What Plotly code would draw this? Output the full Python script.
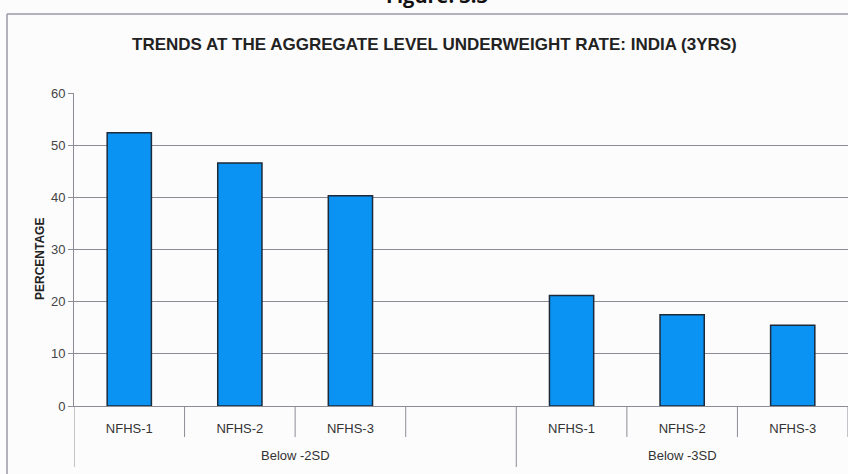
import plotly.graph_objects as go

# Underweight prevalence among children, India, three NFHS rounds
groups = ["Below -2SD", "Below -3SD"]
rounds = ["NFHS-1", "NFHS-2", "NFHS-3"]
below_2sd = [52.4, 46.6, 40.3]
below_3sd = [21.2, 17.5, 15.5]
y_ticks = [0, 10, 20, 30, 40, 50, 60]

# Category slots: three rounds, one empty slot, three rounds
slot_labels = rounds + [""] + rounds
slot_values = below_2sd + [None] + below_3sd
slot_index = list(range(len(slot_labels)))
group_slots = [(0, 3), (4, 6)]  # first / last slot of each group

W, H = 848, 474
ML, MR, MT, MB = 74, 0, 93, 68
PW, PH = W - ML - MR, H - MT - MB


def px_x(p):
    return (p - ML) / PW


def px_y(p):
    return (H - MB - p) / PH


BAR = "#0a93f2"
EDGE = "#1c2a3a"
GRID = "#8c8c96"
FONT = "Liberation Sans, Arial, sans-serif"

fig = go.Figure()
fig.add_trace(go.Bar(
    x=[i for i, v in zip(slot_index, slot_values) if v is not None],
    y=[v for v in slot_values if v is not None],
    width=0.4,
    marker=dict(color=BAR, line=dict(color=EDGE, width=1.5)),
    hoverinfo="x+y",
))

shapes = []
# dividers between slots in the category band
for i in range(len(slot_labels) + 1):
    edge = i - 0.5
    is_group_edge = edge in (-0.5, group_slots[0][1] + 0.5)
    shapes.append(dict(
        type="line", xref="x", yref="paper",
        x0=edge, x1=edge, y0=0,
        y1=px_y(467) if is_group_edge else px_y(437),
        line=dict(color=GRID, width=1),
    ))
# outer chart frame
shapes.append(dict(type="line", xref="paper", yref="paper",
                   x0=px_x(7), x1=px_x(7), y0=px_y(14), y1=px_y(H + 5),
                   line=dict(color="#9a9aa6", width=1.5)))
shapes.append(dict(type="line", xref="paper", yref="paper",
                   x0=px_x(7), x1=px_x(W + 5), y0=px_y(14), y1=px_y(14),
                   line=dict(color="#9a9aa6", width=1.5)))

annotations = []
for name, (a, b) in zip(groups, group_slots):
    annotations.append(dict(
        x=(a - 0.5 + b + 0.5) / 2, y=px_y(455), xref="x", yref="paper",
        text=name, showarrow=False, yanchor="middle",
        font=dict(family=FONT, size=13, color="#333"),
    ))
annotations.append(dict(
    x=px_x(31), y=px_y(259), xref="paper", yref="paper",
    text="<b>PERCENTAGE</b>", textangle=-90, showarrow=False,
    font=dict(family=FONT, size=12, color="#222"),
))
annotations.append(dict(
    x=px_x(434), y=px_y(44), xref="paper", yref="paper",
    text="<b>TRENDS AT THE AGGREGATE LEVEL UNDERWEIGHT RATE: INDIA (3YRS)</b>",
    showarrow=False, yanchor="middle",
    font=dict(family=FONT, size=17, color="#222"),
))
annotations.append(dict(
    x=px_x(437), y=px_y(11), xref="paper", yref="paper",
    text="<b>Figure: 3.3</b>", showarrow=False, yanchor="bottom",
    font=dict(family="Open Sans, sans-serif", size=20, color="#111"),
))

fig.update_layout(
    width=W, height=H,
    margin=dict(l=ML, r=MR, t=MT, b=MB, pad=0),
    paper_bgcolor="#fdfcfd", plot_bgcolor="#fdfcfd",
    showlegend=False,
    bargap=0.6,
    shapes=shapes,
    annotations=annotations,
    xaxis=dict(
        range=[-0.5, len(slot_labels) - 0.5],
        tickvals=[i for i, t in zip(slot_index, slot_labels) if t],
        ticktext=[t for t in slot_labels if t],
        ticks="", showgrid=False, zeroline=False,
        showline=True, linecolor=GRID, linewidth=1,
        ticklabelstandoff=10,
        tickfont=dict(family=FONT, size=13, color="#333"),
    ),
    yaxis=dict(
        range=[0, 60], tickvals=y_ticks,
        showgrid=True, gridcolor=GRID, gridwidth=1,
        zeroline=False, showline=True, linecolor=GRID, linewidth=1,
        ticks="outside", ticklen=5, tickcolor=GRID,
        tickfont=dict(family=FONT, size=13, color="#444"),
    ),
)

fig.write_html("out.html")
